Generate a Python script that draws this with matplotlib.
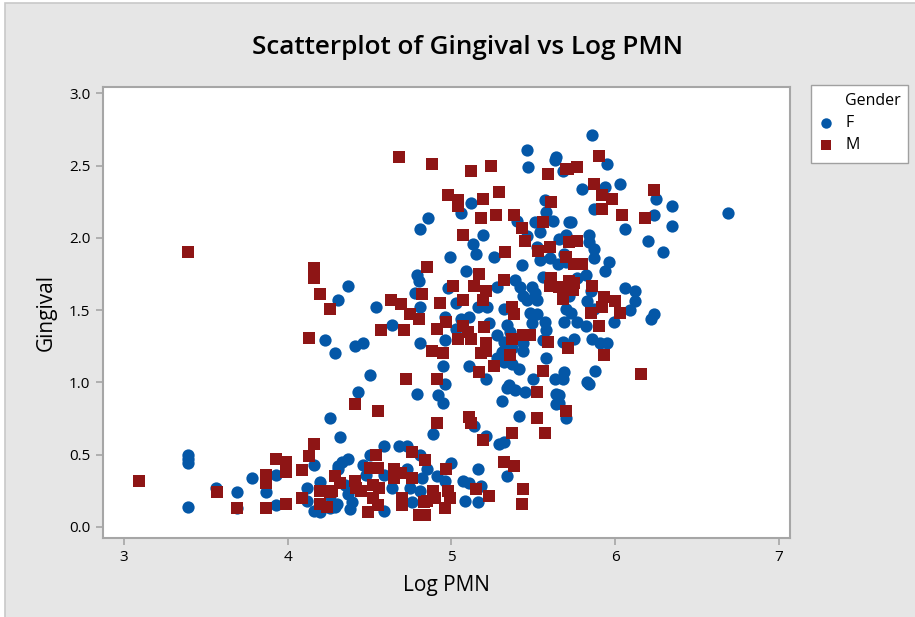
import matplotlib
matplotlib.use('Agg')
import matplotlib.pyplot as plt
from matplotlib.patches import Rectangle
from matplotlib.ticker import FormatStrFormatter

plt.rcParams['font.family'] = ['Open Sans', 'DejaVu Sans']

# Gender F (blue circles): Log PMN, Gingival
f_x = [5.46, 5.47, 5.64, 5.63, 5.68, 5.12, 5.06, 4.86, 4.81, 5.57, 5.58, 5.62,
       5.40, 5.51, 5.54, 5.19, 5.72, 5.46,
       5.86, 5.95, 5.80, 5.94, 6.03, 6.25, 6.35, 5.87, 6.24, 6.69, 5.73, 6.06,
       6.35, 5.84, 5.70,
       4.31, 4.23, 4.29,
       5.13, 5.15, 5.26, 4.99, 5.52, 5.66, 5.69, 5.54, 5.60, 5.65, 5.43, 5.09,
       4.79, 4.80, 5.39, 5.56, 4.37, 4.98, 5.28, 5.42, 5.44, 5.49, 5.46, 5.51,
       5.52, 4.78, 5.03, 4.81, 4.54, 5.16, 5.22, 5.32, 5.48, 5.52, 5.70, 4.96,
       5.06, 5.11, 4.64, 5.23, 5.34, 5.49, 5.57, 5.69, 5.03, 5.28, 5.32, 5.36,
       5.58, 5.44, 4.96, 5.56, 5.68, 4.46, 4.41, 4.81, 5.31, 5.37, 5.44, 5.58,
       5.28, 4.95, 5.11, 5.32, 5.37, 5.41, 5.69, 4.50, 5.21, 5.50, 5.63, 5.68,
       4.96, 5.35,
       5.84, 6.20, 6.29, 5.87, 5.87, 5.70, 5.96, 5.94, 5.82, 5.77, 5.72, 5.85,
       5.83, 6.06, 6.12, 6.12, 6.09, 5.73, 5.77, 5.82, 5.87, 5.99, 6.24, 6.22,
       5.86, 5.91, 5.95, 5.75, 5.88, 5.83,
       4.26, 4.32, 3.39, 3.39, 3.39, 4.16, 4.31, 3.78, 3.93, 3.56, 3.69, 3.87,
       4.12, 4.20, 4.12, 4.16, 4.20, 4.29, 3.39, 3.69, 3.93,
       4.43, 4.79, 4.92, 4.95, 5.34, 5.39, 5.45, 5.64, 5.64, 5.31, 5.41, 5.14,
       4.89, 5.21, 5.29, 5.32, 4.59, 4.68, 4.73, 4.81, 5.00, 4.50, 4.37, 4.33,
       4.31, 4.46, 4.48, 4.73, 5.16, 4.85, 5.34, 4.59, 4.82, 4.91, 4.96, 4.35,
       4.37, 4.39, 4.38, 4.64, 4.75, 4.81, 4.76, 5.07, 5.11, 5.18, 5.08, 5.16,
       4.59, 4.30, 4.26, 4.26,
       5.84, 5.66, 5.66, 5.70]
f_y = [2.61, 2.49, 2.56, 2.54, 2.46, 2.24, 2.17, 2.14, 2.06, 2.26, 2.18, 2.12,
       2.12, 2.11, 2.04, 2.02, 2.11, 2.01,
       2.71, 2.51, 2.34, 2.35, 2.37, 2.27, 2.22, 2.20, 2.16, 2.17, 2.11, 2.06,
       2.08, 2.02, 2.02,
       1.57, 1.29, 1.20,
       1.96, 1.89, 1.87, 1.87, 1.94, 1.99, 1.89, 1.85, 1.86, 1.82, 1.81, 1.77,
       1.74, 1.70, 1.71, 1.73, 1.67, 1.65, 1.66, 1.66, 1.60, 1.66, 1.57, 1.62,
       1.57, 1.62, 1.55, 1.52, 1.52, 1.52, 1.52, 1.51, 1.48, 1.47, 1.51, 1.45,
       1.44, 1.45, 1.40, 1.41, 1.40, 1.41, 1.42, 1.42, 1.37, 1.33, 1.28, 1.35,
       1.36, 1.27, 1.29, 1.29, 1.28, 1.27, 1.25, 1.27, 1.21, 1.24, 1.22, 1.17,
       1.17, 1.11, 1.11, 1.14, 1.13, 1.09, 1.07, 1.05, 1.02, 1.02, 1.02, 1.02,
       0.99, 0.98,
       1.97, 1.98, 1.90, 1.92, 1.86, 1.83, 1.83, 1.77, 1.74, 1.72, 1.60, 1.63,
       1.56, 1.65, 1.63, 1.56, 1.50, 1.48, 1.42, 1.39, 1.51, 1.42, 1.47, 1.44,
       1.30, 1.27, 1.27, 1.30, 1.08, 1.00,
       0.75, 0.62, 0.50, 0.47, 0.44, 0.43, 0.40, 0.34, 0.36, 0.27, 0.24, 0.24,
       0.27, 0.31, 0.18, 0.11, 0.10, 0.14, 0.14, 0.13, 0.15,
       0.93, 0.92, 0.91, 0.86, 0.96, 0.95, 0.93, 0.92, 0.85, 0.87, 0.77, 0.70,
       0.64, 0.63, 0.57, 0.59, 0.56, 0.56, 0.56, 0.50, 0.44, 0.50, 0.47, 0.45,
       0.42, 0.43, 0.36, 0.40, 0.40, 0.40, 0.35, 0.36, 0.34, 0.35, 0.32, 0.29,
       0.23, 0.17, 0.12, 0.27, 0.27, 0.25, 0.17, 0.32, 0.30, 0.28, 0.18, 0.17,
       0.11, 0.16, 0.21, 0.13,
       0.99, 0.91, 0.86, 0.75]

# Gender M (dark red squares)
m_x = [4.68, 4.88, 5.12, 5.24, 5.59, 5.70, 4.98, 5.04, 5.04, 5.19, 5.29, 5.18,
       5.27, 5.38, 5.61, 5.56, 5.43, 5.07,
       5.90, 5.71, 5.77, 5.87, 5.92, 5.98, 6.24, 5.92, 6.04, 6.18,
       3.39, 4.16, 4.16, 4.20, 4.26, 4.13,
       5.33, 5.45, 5.53, 5.60, 5.72, 5.70, 4.85, 5.17, 5.32, 5.61, 5.60, 5.66,
       5.68, 5.72, 5.01, 5.14, 5.21, 4.82, 4.63, 4.69, 4.93, 5.07, 5.19, 5.37,
       5.38, 4.75, 4.80, 4.97, 4.57, 4.71, 4.91, 5.07, 5.20, 5.10, 5.44, 5.48,
       5.37, 5.04, 5.12, 5.59, 5.21, 5.21, 5.18, 4.88, 4.95, 5.71, 5.36, 5.26,
       5.17, 5.56, 4.72, 4.91,
       5.77, 5.75, 5.80, 5.75, 5.86, 5.74, 5.68, 5.93, 6.00, 5.92, 5.85, 6.03,
       5.90, 5.93, 6.16,
       4.16, 4.13, 3.93, 3.99, 3.99, 4.09, 3.09, 3.87, 3.87, 4.29, 3.57, 4.20,
       4.26, 4.09, 4.20, 4.24, 3.69, 3.87, 3.99,
       5.52, 4.41, 4.55, 5.70, 5.11, 5.12, 4.91, 5.52, 5.57, 5.37, 5.19, 4.54,
       4.76, 4.84, 5.32, 5.38, 4.50, 4.55, 4.65, 4.65, 4.69, 4.97, 4.76, 4.32,
       4.27, 4.41, 4.42, 4.45, 4.52, 4.56, 4.52, 4.55, 4.70, 4.70, 4.89, 4.90,
       4.98, 4.99, 4.96, 4.83, 4.85, 5.15, 5.23, 5.44, 5.43, 4.49, 4.80, 4.84]
m_y = [2.56, 2.51, 2.46, 2.50, 2.44, 2.48, 2.30, 2.26, 2.22, 2.27, 2.32, 2.14,
       2.16, 2.16, 2.25, 2.11, 2.07, 2.02,
       2.57, 2.48, 2.49, 2.37, 2.30, 2.27, 2.33, 2.20, 2.16, 2.14,
       1.90, 1.79, 1.72, 1.61, 1.51, 1.31,
       1.90, 1.98, 1.91, 1.94, 1.97, 1.87, 1.80, 1.75, 1.71, 1.72, 1.67, 1.66,
       1.63, 1.70, 1.67, 1.67, 1.63, 1.61, 1.57, 1.54, 1.55, 1.57, 1.57, 1.52,
       1.47, 1.47, 1.44, 1.42, 1.36, 1.36, 1.37, 1.39, 1.38, 1.35, 1.33, 1.33,
       1.30, 1.30, 1.30, 1.28, 1.27, 1.22, 1.20, 1.22, 1.20, 1.24, 1.19, 1.11,
       1.07, 1.08, 1.02, 1.02,
       1.98, 1.82, 1.82, 1.69, 1.67, 1.64, 1.58, 1.59, 1.56, 1.52, 1.48, 1.48,
       1.39, 1.19, 1.06,
       0.57, 0.49, 0.47, 0.45, 0.38, 0.39, 0.32, 0.36, 0.30, 0.35, 0.24, 0.25,
       0.24, 0.20, 0.16, 0.14, 0.13, 0.13, 0.16,
       0.93, 0.85, 0.80, 0.80, 0.76, 0.72, 0.72, 0.75, 0.65, 0.65, 0.60, 0.50,
       0.52, 0.46, 0.45, 0.42, 0.41, 0.41, 0.40, 0.34, 0.37, 0.40, 0.34, 0.30,
       0.25, 0.32, 0.27, 0.25, 0.29, 0.27, 0.20, 0.15, 0.20, 0.15, 0.25, 0.20,
       0.25, 0.20, 0.13, 0.17, 0.18, 0.26, 0.21, 0.26, 0.16, 0.10, 0.08, 0.08]

blue = '#0457a7'
red = '#8e1515'
grid_grey = '#a6a6a6'

fig = plt.figure(figsize=(9.15, 6.17), dpi=100, facecolor='white')
# grey graph region with a thin frame, drawn under everything
fig.patches.append(Rectangle((5 / 915, -0.01), 1.0, 1 - 3 / 617 + 0.01,
                             transform=fig.transFigure, facecolor='#e6e6e6',
                             edgecolor='#c8c8c8', linewidth=1.2, zorder=-10))
# legend box (Minitab style: fixed width, title indented)
fig.patches.append(Rectangle((811 / 915, 1 - 163 / 617), 97 / 915, 78 / 617,
                             transform=fig.transFigure, facecolor='white',
                             edgecolor='#a0a0a0', linewidth=1.0, zorder=-5))

ax = fig.add_axes([103 / 915, 79.3 / 617, 687 / 915, 450.7 / 617])
ax.set_facecolor('white')

ax.scatter(f_x, f_y, s=78, marker='o', color=blue, linewidths=0, label='F', zorder=3)
ax.scatter(m_x, m_y, s=66, marker='s', color=red, linewidths=0, label='M', zorder=3)

ax.set_xlim(2.872, 7.068)
ax.set_ylim(-0.076, 3.045)
ax.set_xticks([3, 4, 5, 6, 7])
ax.set_yticks([0.0, 0.5, 1.0, 1.5, 2.0, 2.5, 3.0])
ax.yaxis.set_major_formatter(FormatStrFormatter('%.1f'))

for sp in ax.spines.values():
    sp.set_color(grid_grey)
    sp.set_linewidth(1.5)
ax.tick_params(direction='out', length=5, width=1.2, color=grid_grey,
               labelsize=11, labelcolor='black', pad=4)

ax.set_xlabel('Log PMN', fontsize=15, labelpad=7)
ax.set_ylabel('Gingival', fontsize=15, labelpad=9)
fig.text(468 / 915, 1 - 48 / 617, 'Scatterplot of Gingival vs Log PMN',
         ha='center', va='center', fontsize=18.8, weight='semibold')

fig.text(845 / 915, 1 - 101 / 617, 'Gender', ha='left', va='center', fontsize=11.5)
leg = ax.legend(loc='upper left', bbox_to_anchor=(811 / 915, 1 - 110 / 617),
                bbox_transform=fig.transFigure, frameon=False,
                fontsize=11.5, handletextpad=0.6, borderpad=0.3,
                labelspacing=0.4, handlelength=1.25, borderaxespad=0,
                markerscale=0.85)

fig.savefig('out.png', dpi=100, facecolor=fig.get_facecolor())
